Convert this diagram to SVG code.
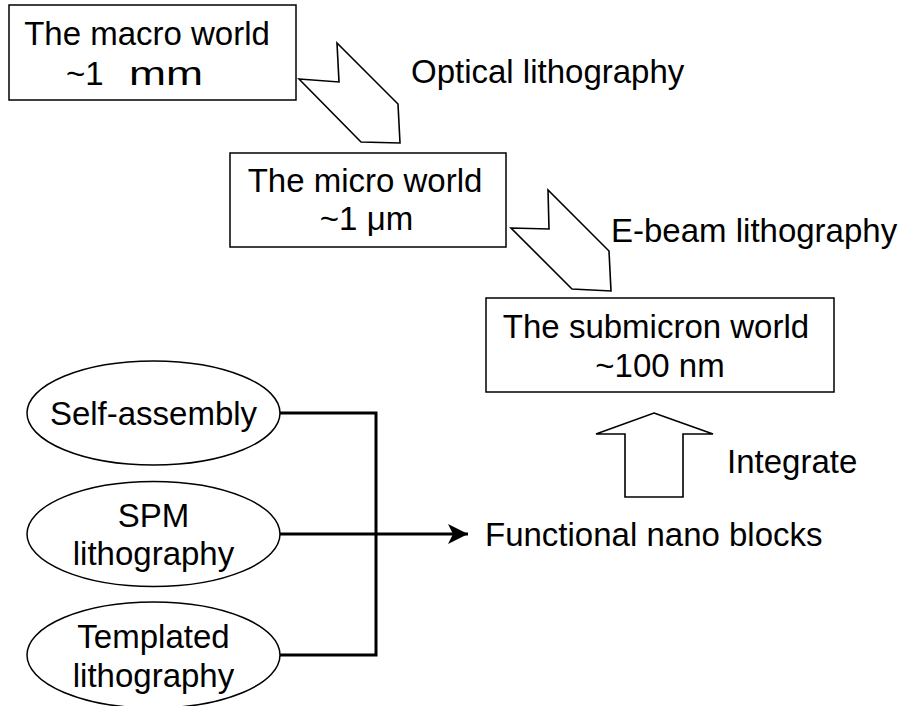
<svg xmlns="http://www.w3.org/2000/svg" width="902" height="706" viewBox="0 0 902 706">
<defs>
<style>
text{font-family:"Liberation Sans",Arial,sans-serif;font-size:33px;fill:#000}
.box{fill:#fff;stroke:#000;stroke-width:1.5}
.big{fill:#fff;stroke:#000;stroke-width:1.6;stroke-linejoin:miter}
.conn{fill:none;stroke:#000;stroke-width:3}
</style>
<marker id="ah" markerUnits="userSpaceOnUse" markerWidth="22" markerHeight="22" refX="20" refY="10" orient="auto" viewBox="0 0 22 22">
<path d="M20,10 L0,0 L5,10 L0,20 Z" fill="#000"/>
</marker>
</defs>
<rect width="902" height="706" fill="#fff"/>

<g id="macro">
<rect class="box" x="9" y="5" width="287" height="95"/>
<text x="147" y="45" text-anchor="middle">The macro world</text>
<text y="85"><tspan x="66">~1</tspan> <tspan x="129" textLength="74" lengthAdjust="spacingAndGlyphs">mm</tspan></text>
</g>

<g id="micro">
<rect class="box" x="230" y="153" width="276" height="94"/>
<text x="365" y="192" text-anchor="middle">The micro world</text>
<text x="366.5" y="230" text-anchor="middle">~1 μm</text>
</g>

<g id="submicron">
<rect class="box" x="486" y="298" width="348" height="94"/>
<text x="656" y="338" text-anchor="middle">The submicron world</text>
<text x="660" y="377" text-anchor="middle">~100 nm</text>
</g>

<g id="optical">
<polygon class="big" points="299,79 339,82 337,43 398,104 400,143 361,142"/>
<text x="411" y="83">Optical lithography</text>
</g>

<g id="ebeam">
<polygon class="big" points="511,228 549,229 548,190 609,251 611,291 572,289"/>
<text x="611" y="242">E-beam lithography</text>
</g>

<g id="integrate">
<polygon class="big" points="654,413 713,434 683,434 683,497 625,497 625,434 596,434"/>
<text x="727" y="473">Integrate</text>
</g>

<g id="self-assembly">
<ellipse class="box" cx="153.5" cy="413" rx="126.5" ry="52"/>
<text x="153.5" y="425" text-anchor="middle">Self-assembly</text>
</g>

<g id="spm">
<ellipse class="box" cx="153.5" cy="534" rx="126.5" ry="52.5"/>
<text x="153.5" y="527" text-anchor="middle">SPM</text>
<text x="153.5" y="565" text-anchor="middle">lithography</text>
</g>

<g id="templated">
<ellipse class="box" cx="153.5" cy="655" rx="126.5" ry="53"/>
<text x="153.5" y="648" text-anchor="middle">Templated</text>
<text x="153.5" y="687" text-anchor="middle">lithography</text>
</g>

<g id="functional">
<text x="485" y="546">Functional nano blocks</text>
</g>

<g id="connectors">
<path class="conn" d="M280,413 H376 V655 H280"/>
<path class="conn" d="M280,534 H468" marker-end="url(#ah)"/>
</g>
</svg>
